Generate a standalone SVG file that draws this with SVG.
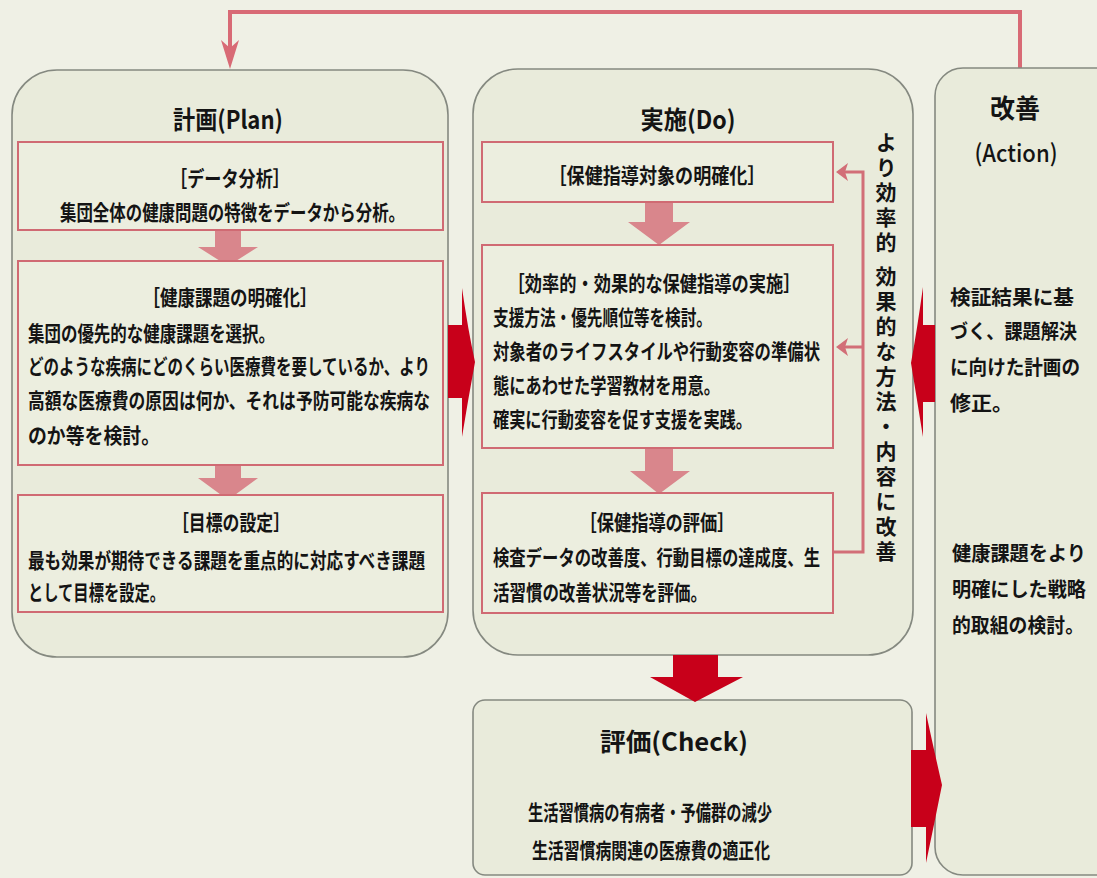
<svg xmlns="http://www.w3.org/2000/svg" width="1097" height="878" viewBox="0 0 1097 878">
<style>
.bg{fill:#eff0e5}
.big{fill:#e9ebdb;stroke:#858980;stroke-width:1.6}
.inner{fill:#eceedf;stroke:#d06a73;stroke-width:2}
.pink{fill:#d9868c}
.red{fill:#c8001a}
.fb{fill:none;stroke:#d26e77;stroke-width:3}
.top{fill:none;stroke:#d86a75;stroke-width:4}
text{font-family:"Noto Sans CJK JP","Noto Sans",sans-serif;fill:#141414}
.t{font-size:25px;font-weight:700}
.h{font-size:21px;font-weight:700}
.b{font-size:21px;font-weight:700}
.a{font-size:20px;font-weight:700}
</style>
<rect class="bg" x="0" y="0" width="1097" height="878"/>

<g id="connectors">
<path class="top" d="M1020,68 V12 H230 V55"/>
<path d="M221,40 L230,48 L239,40 L230,69 Z" fill="#d86a75"/>
</g>

<g id="plan">
<rect class="big" x="12" y="70" width="436" height="587" rx="45" ry="45"/>
<text class="t" x="228" y="129" text-anchor="middle" textLength="110" lengthAdjust="spacingAndGlyphs">計画(Plan)</text>
<g id="plan-data">
<rect class="inner" x="18" y="142" width="425" height="88"/>
<text class="h" x="230" y="186" text-anchor="middle" textLength="120" lengthAdjust="spacingAndGlyphs">［データ分析］</text>
<text class="b" x="60" y="220" textLength="345" lengthAdjust="spacingAndGlyphs">集団全体の健康問題の特徴をデータから分析。</text>
</g>
<polygon class="pink" points="215,231 241,231 241,247 258,247 228,266 198,247 215,247"/>
<g id="plan-issue">
<rect class="inner" x="18" y="261" width="425" height="204"/>
<text class="h" x="230" y="305" text-anchor="middle" textLength="175" lengthAdjust="spacingAndGlyphs">［健康課題の明確化］</text>
<text class="b" x="28" y="341" textLength="247" lengthAdjust="spacingAndGlyphs">集団の優先的な健康課題を選択。</text>
<text class="b" x="28" y="374" textLength="402" lengthAdjust="spacingAndGlyphs">どのような疾病にどのくらい医療費を要しているか、より</text>
<text class="b" x="28" y="408" textLength="402" lengthAdjust="spacingAndGlyphs">高額な医療費の原因は何か、それは予防可能な疾病な</text>
<text class="b" x="28" y="443" textLength="132" lengthAdjust="spacingAndGlyphs">のか等を検討。</text>
</g>
<polygon class="pink" points="215,466 241,466 241,478 258,478 228,500 198,478 215,478"/>
<g id="plan-goal">
<rect class="inner" x="18" y="495" width="425" height="117"/>
<text class="h" x="231" y="530" text-anchor="middle" textLength="118" lengthAdjust="spacingAndGlyphs">［目標の設定］</text>
<text class="b" x="28" y="568" textLength="397" lengthAdjust="spacingAndGlyphs">最も効果が期待できる課題を重点的に対応すべき課題</text>
<text class="b" x="28" y="600" textLength="137" lengthAdjust="spacingAndGlyphs">として目標を設定。</text>
</g>
</g>

<g id="do">
<rect class="big" x="473" y="69" width="440" height="586" rx="45" ry="45"/>
<text class="t" x="688" y="129" text-anchor="middle" textLength="95" lengthAdjust="spacingAndGlyphs">実施(Do)</text>
<g id="do-target">
<rect class="inner" x="482" y="142" width="351" height="60"/>
<text class="h" x="657" y="183" text-anchor="middle" textLength="217" lengthAdjust="spacingAndGlyphs">［保健指導対象の明確化］</text>
</g>
<polygon class="pink" points="645,203 673,203 673,222 690,222 659,245 628,222 645,222"/>
<g id="do-impl">
<rect class="inner" x="482" y="245" width="351" height="203"/>
<text class="h" x="654" y="291" text-anchor="middle" textLength="293" lengthAdjust="spacingAndGlyphs">［効率的・効果的な保健指導の実施］</text>
<text class="b" x="493" y="325" textLength="219" lengthAdjust="spacingAndGlyphs">支援方法・優先順位等を検討。</text>
<text class="b" x="493" y="359" textLength="327" lengthAdjust="spacingAndGlyphs">対象者のライフスタイルや行動変容の準備状</text>
<text class="b" x="493" y="393" textLength="227" lengthAdjust="spacingAndGlyphs">態にあわせた学習教材を用意。</text>
<text class="b" x="493" y="427" textLength="259" lengthAdjust="spacingAndGlyphs">確実に行動変容を促す支援を実践。</text>
</g>
<polygon class="pink" points="645,449 673,449 673,471 690,471 659,494 630,471 645,471"/>
<g id="do-eval">
<rect class="inner" x="482" y="493" width="351" height="120"/>
<text class="h" x="657" y="530" text-anchor="middle" textLength="155" lengthAdjust="spacingAndGlyphs">［保健指導の評価］</text>
<text class="b" x="493" y="565" textLength="327" lengthAdjust="spacingAndGlyphs">検査データの改善度、行動目標の達成度、生</text>
<text class="b" x="493" y="600" textLength="214" lengthAdjust="spacingAndGlyphs">活習慣の改善状況等を評価。</text>
</g>
<g id="feedback">
<path class="fb" d="M834,552 H863 V172 H842 M863,347 H842"/>
<path d="M836,172 L848,163 L845,172 L848,181 Z" fill="#d26e77"/>
<path d="M836,347 L848,338 L845,347 L848,356 Z" fill="#d26e77"/>
</g>
<text class="b" x="886" y="132" style="writing-mode:vertical-rl;letter-spacing:4px" font-size="22">より効率的 効果的な方法・内容に改善</text>
</g>

<g id="action">
<path class="big" d="M1098,68 H963 A28,28 0 0 0 935,96 V847 A28,28 0 0 0 963,875 H1098"/>
<text x="1015" y="118" text-anchor="middle" font-size="26" font-weight="700" textLength="50" lengthAdjust="spacingAndGlyphs">改善</text>
<text x="1016" y="162" text-anchor="middle" font-size="24" font-weight="500" textLength="83" lengthAdjust="spacingAndGlyphs">(Action)</text>
<text class="a" x="950" y="305" textLength="124" lengthAdjust="spacingAndGlyphs">検証結果に基</text>
<text class="a" x="950" y="339" textLength="127" lengthAdjust="spacingAndGlyphs">づく、課題解決</text>
<text class="a" x="950" y="375" textLength="130" lengthAdjust="spacingAndGlyphs">に向けた計画の</text>
<text class="a" x="950" y="411" textLength="63" lengthAdjust="spacingAndGlyphs">修正。</text>
<text class="a" x="952" y="561" textLength="134" lengthAdjust="spacingAndGlyphs">健康課題をより</text>
<text class="a" x="952" y="597" textLength="134" lengthAdjust="spacingAndGlyphs">明確にした戦略</text>
<text class="a" x="952" y="633" textLength="132" lengthAdjust="spacingAndGlyphs">的取組の検討。</text>
</g>

<g id="check">
<rect class="big" x="473" y="700" width="439" height="175" rx="12" ry="12"/>
<text class="t" x="674" y="751" text-anchor="middle" textLength="148" lengthAdjust="spacingAndGlyphs">評価(Check)</text>
<text class="b" x="650" y="820" text-anchor="middle" textLength="244" lengthAdjust="spacingAndGlyphs">生活習慣病の有病者・予備群の減少</text>
<text class="b" x="651" y="858" text-anchor="middle" textLength="238" lengthAdjust="spacingAndGlyphs">生活習慣病関連の医療費の適正化</text>
</g>

<g id="red-arrows">
<path class="red" d="M448,325 L462,325 L462,288 Q468,330 475,362 Q468,400 462,437 L462,398 L448,398 Z"/>
<path class="red" d="M935,325 L923,325 L923,287 Q917,330 911,363 Q917,400 923,437 L923,402 L935,402 Z"/>
<path class="red" d="M911,750 L926,750 L926,713 Q934,750 942,785 Q934,825 926,863 L926,827 L911,827 Z"/>
<polygon class="red" points="673,655 718,655 718,677 743,677 695,702 650,677 673,677"/>
</g>
</svg>
